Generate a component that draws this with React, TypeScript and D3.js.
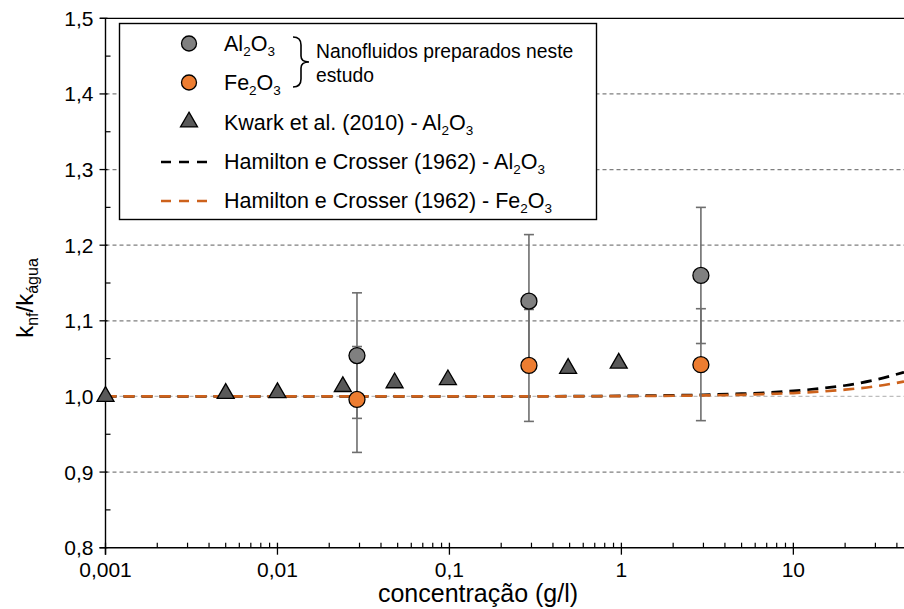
import React, { useEffect, useRef } from "react";
import * as d3 from "d3";

// Measured thermal conductivity ratio, nanofluids prepared in this study
const concAl = [0.029, 0.29, 2.9];
const kAl = [1.054, 1.126, 1.16];
const errAl = [0.083, 0.088, 0.09];

const concFe = [0.029, 0.29, 2.9];
const kFe = [0.996, 1.041, 1.042];
const errFe = [0.07, 0.074, 0.074];

// Kwark et al. (2010), Al2O3
const concKwark = [0.001, 0.005, 0.01, 0.024, 0.048, 0.098, 0.49, 0.965];
const kKwark = [1.0, 1.004, 1.005, 1.013, 1.018, 1.022, 1.037, 1.044];

// Hamilton & Crosser (1962) model curves
const concHC = [0.001, 0.01, 0.1, 0.3, 1, 2, 3, 5, 10, 15, 20, 30, 44];
const kHCAl = [1.0, 1.0, 1.0, 1.0002, 1.0007, 1.0015, 1.0022, 1.0036, 1.0073, 1.011, 1.0145, 1.022, 1.032];
const kHCFe = [1.0, 1.0, 1.0, 1.0001, 1.0004, 1.0009, 1.0013, 1.0022, 1.0045, 1.0067, 1.009, 1.0134, 1.0197];

const xTickValues = [0.001, 0.01, 0.1, 1, 10];
const xTickLabels = ["0,001", "0,01", "0,1", "1", "10"];
const yTickValues = [0.8, 0.9, 1.0, 1.1, 1.2, 1.3, 1.4, 1.5];
const yGridValues = [0.9, 1.0, 1.1, 1.2, 1.3, 1.4];

const W = 904;
const H = 609;
const FONT = "'Liberation Sans', Arial, sans-serif";
const GRAY = "#808080";
const ORANGE = "#ED7D31";
const TRI = "#595959";
const HC_ORANGE = "#CD621C";

export default function App() {
  const ref = useRef<SVGSVGElement | null>(null);

  useEffect(() => {
    const svg = d3.select(ref.current);
    svg.selectAll("*").remove();

    const x = d3.scaleLog().domain([0.001, 44]).range([105.5, 904]);
    const y = d3.scaleLinear().domain([0.8, 1.5]).range([547.7, 18.3]);
    const x0 = x.range()[0];
    const yb = y(0.8);

    // gridlines
    svg
      .append("g")
      .selectAll("line")
      .data(yGridValues)
      .join("line")
      .attr("x1", x0)
      .attr("x2", W)
      .attr("y1", (d) => y(d))
      .attr("y2", (d) => y(d))
      .attr("stroke", (d) => (Math.abs(d - 1) < 1e-9 ? "#bdbdbd" : "#7f7f7f"))
      .attr("stroke-width", 1.2)
      .attr("stroke-dasharray", "4,3");

    // top border
    svg.append("line").attr("x1", 100).attr("x2", W).attr("y1", y(1.5)).attr("y2", y(1.5))
      .attr("stroke", "#000").attr("stroke-width", 1.3);

    // y axis
    const gy = svg.append("g");
    gy.append("line").attr("x1", x0).attr("x2", x0).attr("y1", y(1.5)).attr("y2", yb + 7)
      .attr("stroke", "#000").attr("stroke-width", 1.4);
    gy.selectAll("line.maj").data(yTickValues).join("line").attr("class", "maj")
      .attr("x1", x0 - 6).attr("x2", x0 + 2).attr("y1", (d) => y(d)).attr("y2", (d) => y(d))
      .attr("stroke", "#000").attr("stroke-width", 1.3);
    const yMinor = d3.range(0.85, 1.5, 0.1);
    gy.selectAll("line.min").data(yMinor).join("line").attr("class", "min")
      .attr("x1", x0).attr("x2", x0 + 5).attr("y1", (d) => y(d)).attr("y2", (d) => y(d))
      .attr("stroke", "#000").attr("stroke-width", 1.2);
    gy.selectAll("text").data(yTickValues).join("text")
      .attr("x", x0 - 12).attr("y", (d) => y(d)).attr("dy", "0.36em")
      .attr("text-anchor", "end").attr("font-family", FONT).attr("font-size", 21).attr("fill", "#000")
      .text((d) => d3.format(".1f")(d).replace(".", ","));

    // x axis
    const gx = svg.append("g");
    gx.append("line").attr("x1", x0 - 6).attr("x2", W).attr("y1", yb).attr("y2", yb)
      .attr("stroke", "#000").attr("stroke-width", 1.4);
    gx.selectAll("line.maj").data(xTickValues).join("line").attr("class", "maj")
      .attr("x1", (d) => x(d)).attr("x2", (d) => x(d)).attr("y1", yb - 5).attr("y2", yb + 7)
      .attr("stroke", "#000").attr("stroke-width", 1.3);
    const xMinor: number[] = [];
    xTickValues.forEach((dec) => {
      for (let m = 2; m <= 9; m++) {
        const v = dec * m;
        if (v <= 44) xMinor.push(v);
      }
    });
    gx.selectAll("line.min").data(xMinor).join("line").attr("class", "min")
      .attr("x1", (d) => x(d)).attr("x2", (d) => x(d)).attr("y1", yb - 5).attr("y2", yb)
      .attr("stroke", "#000").attr("stroke-width", 1.2);
    gx.selectAll("text").data(xTickValues).join("text")
      .attr("x", (d) => x(d)).attr("y", yb + 29)
      .attr("text-anchor", "middle").attr("font-family", FONT).attr("font-size", 21).attr("fill", "#000")
      .text((d, i) => xTickLabels[i]);

    // axis titles
    svg.append("text").attr("x", 478).attr("y", 602).attr("text-anchor", "middle")
      .attr("font-family", FONT).attr("font-size", 25).attr("fill", "#000").text("concentração (g/l)");

    const yt = svg.append("text").attr("transform", "translate(33,298) rotate(-90)")
      .attr("text-anchor", "middle").attr("font-family", FONT).attr("font-size", 24).attr("fill", "#000");
    yt.append("tspan").text("k");
    yt.append("tspan").attr("font-size", 16).attr("dy", 5).text("nf");
    yt.append("tspan").attr("dy", -5).text("/k");
    yt.append("tspan").attr("font-size", 16).attr("dy", 5).text("água");

    // model curves
    const line = (ys: number[]) =>
      d3.line<number>().x((d, i) => x(concHC[i])).y((d) => y(d)).curve(d3.curveMonotoneX)(ys);
    svg.append("path").attr("d", line(kHCAl)).attr("fill", "none").attr("stroke", "#000")
      .attr("stroke-width", 2.7).attr("stroke-dasharray", "11,7");
    svg.append("path").attr("d", line(kHCFe)).attr("fill", "none").attr("stroke", HC_ORANGE)
      .attr("stroke-width", 2.7).attr("stroke-dasharray", "11,7");

    // error bars
    const bars = [
      ...concAl.map((c, i) => ({ c, v: kAl[i], e: errAl[i] })),
      ...concFe.map((c, i) => ({ c, v: kFe[i], e: errFe[i] })),
    ];
    const ge = svg.append("g").attr("stroke", "#6e6e6e").attr("stroke-width", 1.6);
    bars.forEach((b) => {
      const cx = x(b.c);
      ge.append("line").attr("x1", cx).attr("x2", cx).attr("y1", y(b.v + b.e)).attr("y2", y(b.v - b.e));
      [b.v + b.e, b.v - b.e].forEach((v) =>
        ge.append("line").attr("x1", cx - 5).attr("x2", cx + 5).attr("y1", y(v)).attr("y2", y(v))
      );
    });

    // triangles
    const tri = d3.symbol().type(d3.symbolTriangle).size(125);
    svg.append("g").selectAll("path").data(concKwark).join("path")
      .attr("d", tri as any)
      .attr("transform", (d, i) => `translate(${x(d)},${y(kKwark[i])})`)
      .attr("fill", TRI).attr("stroke", "#000").attr("stroke-width", 1.3);

    // circles
    svg.append("g").selectAll("circle").data(concAl).join("circle")
      .attr("cx", (d) => x(d)).attr("cy", (d, i) => y(kAl[i])).attr("r", 8)
      .attr("fill", GRAY).attr("stroke", "#000").attr("stroke-width", 1.3);
    svg.append("g").selectAll("circle").data(concFe).join("circle")
      .attr("cx", (d) => x(d)).attr("cy", (d, i) => y(kFe[i])).attr("r", 8)
      .attr("fill", ORANGE).attr("stroke", "#000").attr("stroke-width", 1.3);

    // legend
    const lg = svg.append("g");
    lg.append("rect").attr("x", 119.5).attr("y", 23.5).attr("width", 477).attr("height", 196)
      .attr("fill", "#fff").attr("stroke", "#000").attr("stroke-width", 1.4);
    const lx = 189;
    const tx = 224;
    lg.append("circle").attr("cx", lx).attr("cy", 43.5).attr("r", 7.5).attr("fill", GRAY)
      .attr("stroke", "#000").attr("stroke-width", 1.3);
    lg.append("circle").attr("cx", lx).attr("cy", 82.5).attr("r", 7.5).attr("fill", ORANGE)
      .attr("stroke", "#000").attr("stroke-width", 1.3);
    lg.append("path").attr("d", tri as any).attr("transform", `translate(${lx},122)`)
      .attr("fill", TRI).attr("stroke", "#000").attr("stroke-width", 1.3);
    lg.append("line").attr("x1", 161).attr("x2", 210).attr("y1", 162).attr("y2", 162)
      .attr("stroke", "#000").attr("stroke-width", 2.7).attr("stroke-dasharray", "10,8");
    lg.append("line").attr("x1", 161).attr("x2", 210).attr("y1", 201).attr("y2", 201)
      .attr("stroke", HC_ORANGE).attr("stroke-width", 2.7).attr("stroke-dasharray", "10,8");

    const addLabel = (yy: number, parts: [string, boolean][]) => {
      const t = lg.append("text").attr("x", tx).attr("y", yy).attr("font-family", FONT)
        .attr("font-size", 21.5).attr("fill", "#000");
      let sub = false;
      parts.forEach(([s, isSub]) => {
        const sp = t.append("tspan").text(s);
        if (isSub) sp.attr("font-size", 13.5);
        if (isSub !== sub) sp.attr("dy", isSub ? 5 : -5);
        sub = isSub;
      });
    };
    addLabel(51, [["Al", false], ["2", true], ["O", false], ["3", true]]);
    addLabel(90, [["Fe", false], ["2", true], ["O", false], ["3", true]]);
    addLabel(130, [["Kwark et al. (2010) - Al", false], ["2", true], ["O", false], ["3", true]]);
    addLabel(169, [["Hamilton e Crosser (1962) - Al", false], ["2", true], ["O", false], ["3", true]]);
    addLabel(208, [["Hamilton e Crosser (1962) - Fe", false], ["2", true], ["O", false], ["3", true]]);

    lg.append("path")
      .attr("d", "M293,37 Q301,37 301,45 L301,56 Q301,62 309,62 Q301,62 301,68 L301,79 Q301,87 293,87")
      .attr("fill", "none").attr("stroke", "#000").attr("stroke-width", 1.6);
    lg.append("text").attr("x", 316).attr("y", 58).attr("font-family", FONT).attr("font-size", 19.3)
      .text("Nanofluidos preparados neste");
    lg.append("text").attr("x", 316).attr("y", 82).attr("font-family", FONT).attr("font-size", 19.3)
      .text("estudo");
  }, []);

  return (
    <svg
      ref={ref}
      width={W}
      height={H}
      style={{ position: "absolute", left: 0, top: 0, background: "#fff" }}
    />
  );
}
